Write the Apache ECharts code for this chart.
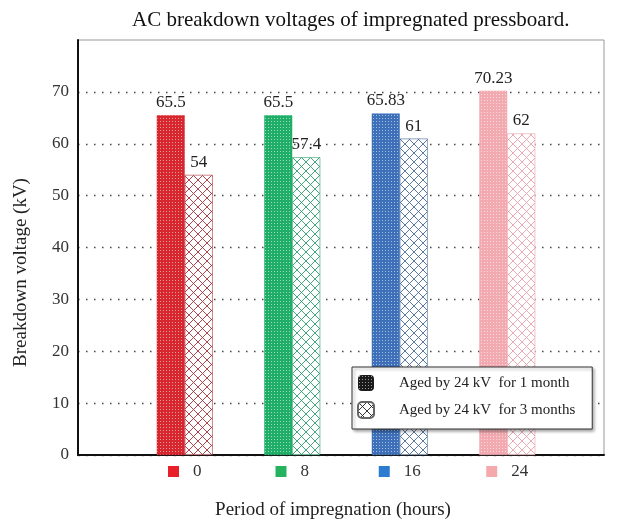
<!DOCTYPE html>
<html>
<head>
<meta charset="utf-8">
<script src="https://cdn.jsdelivr.net/npm/echarts@6/dist/echarts.min.js"></script>
<style>
html,body{margin:0;padding:0;background:#fff;}
#chart{width:617px;height:525px;}
</style>
</head>
<body>
<div id="chart"></div>
<script>
// Impregnation periods (hours) and breakdown voltages (kV)
const periods = ['0', '8', '16', '24'];
const aged1Month = [65.5, 65.5, 65.83, 70.23];
const aged3Months = [54, 57.4, 61, 62];
const yTicks = [0, 10, 20, 30, 40, 50, 60, 70];

const fillColors = ['#d8262e', '#1fae68', '#3d70b8', '#f2aab0'];
const hatchColors = ['#a8303c', '#2a9e6a', '#4a6a96', '#eaa0a8'];
const keyColors = ['#e8202a', '#25b25e', '#2b7bd0', '#f5a9ab'];

const SERIF = '"Liberation Serif", "DejaVu Serif", serif';

// Dense dotted fill: solid colour with a fine grid of light dots
function dotPattern(color) {
  const c = document.createElement('canvas');
  c.width = 3; c.height = 3;
  const g = c.getContext('2d');
  g.fillStyle = color; g.fillRect(0, 0, 3, 3);
  g.fillStyle = 'rgba(255,255,255,0.55)';
  g.fillRect(1, 1, 1, 1);
  return { image: c, repeat: 'repeat' };
}

// Open lattice fill: white with crossing diagonal lines
function hatchPattern(color) {
  const s = 9;
  const c = document.createElement('canvas');
  c.width = s; c.height = s;
  const g = c.getContext('2d');
  g.fillStyle = '#fff'; g.fillRect(0, 0, s, s);
  g.strokeStyle = color; g.lineWidth = 0.9;
  g.beginPath();
  g.moveTo(0, 0); g.lineTo(s, s);
  g.moveTo(s, 0); g.lineTo(0, s);
  g.stroke();
  return { image: c, repeat: 'repeat' };
}

const chart = echarts.init(document.getElementById('chart'), null, { renderer: 'canvas' });

const labelStyle = {
  show: true, position: 'top', distance: 4,
  fontFamily: SERIF, fontSize: 17, color: '#222'
};

const richKeys = {};
keyColors.forEach((c, i) => {
  richKeys['k' + i] = { width: 11, height: 11, backgroundColor: c };
});
richKeys.t = { fontFamily: SERIF, fontSize: 17, color: '#333', padding: [0, 0, 0, 14] };

// dotted guide lines at each tick; the one at the top edge is left out
const gridLineColors = [0, 10, 20, 30, 40, 50, 60, 70, 80].map(v =>
  yTicks.indexOf(v) >= 0 ? '#444' : 'rgba(0,0,0,0)');

chart.setOption({
  animation: false,
  title: {
    text: 'AC breakdown voltages of impregnated pressboard.',
    left: 127, top: 5,
    textStyle: { fontFamily: SERIF, fontSize: 21, fontWeight: 'normal', color: '#111' }
  },
  legend: {
    orient: 'vertical',
    left: 352, top: 367,
    backgroundColor: '#fff',
    borderColor: '#333', borderWidth: 1,
    shadowColor: 'rgba(0,0,0,0.35)', shadowBlur: 3, shadowOffsetX: 2, shadowOffsetY: 2,
    padding: [8, 17, 10, 5],
    itemGap: 10, itemWidth: 16, itemHeight: 16,
    textStyle: { fontFamily: SERIF, fontSize: 15, color: '#222', padding: [0, 0, 0, 20] },
    data: ['Aged by 24 kV  for 1 month', 'Aged by 24 kV  for 3 months']
  },
  grid: [
    { left: 78, right: 13, top: 40, bottom: 70, show: true, borderColor: '#999', borderWidth: 1 },
    { left: 131, right: 56, top: 40, bottom: 70 }
  ],
  xAxis: [
    {
      gridIndex: 0, type: 'value', min: 0, max: 1,
      axisLine: { show: true, lineStyle: { color: '#111', width: 2 } },
      axisTick: { show: false }, axisLabel: { show: false }, splitLine: { show: false },
      name: 'Period of impregnation (hours)', nameLocation: 'middle', nameGap: 46,
      nameTextStyle: { fontFamily: SERIF, fontSize: 19, color: '#222', padding: [0, 16, 0, 0] }
    },
    {
      gridIndex: 1, type: 'category', data: periods,
      axisLine: { show: false }, axisTick: { show: false },
      axisLabel: {
        margin: 8,
        formatter: (v, i) => '{k' + i + '|}{t|' + v + '}',
        rich: richKeys
      }
    }
  ],
  yAxis: [
    {
      gridIndex: 0, type: 'value', min: 0, max: 80, interval: 10,
      axisLine: { show: true, lineStyle: { color: '#111', width: 2 } },
      axisTick: { show: false },
      axisLabel: {
        margin: 9, fontFamily: SERIF, fontSize: 17, color: '#333',
        formatter: v => (yTicks.indexOf(v) >= 0 ? String(v) : '')
      },
      splitLine: { show: true, lineStyle: { color: gridLineColors, width: 1.4, type: [1.5, 6.5] } },
      name: 'Breakdown voltage (kV)', nameLocation: 'middle', nameGap: 47,
      nameTextStyle: { fontFamily: SERIF, fontSize: 19, color: '#222', padding: [0, 50, 0, 0] }
    },
    {
      gridIndex: 1, type: 'value', min: 0, max: 80, interval: 10, show: false
    }
  ],
  series: [
    {
      name: 'Aged by 24 kV  for 1 month', type: 'bar',
      xAxisIndex: 1, yAxisIndex: 1,
      barWidth: 28, barGap: '0%',
      itemStyle: { color: dotPattern('#1a1a1a') },
      label: labelStyle,
      data: aged1Month.map((v, i) => ({
        value: v,
        itemStyle: { color: dotPattern(fillColors[i]), borderColor: fillColors[i], borderWidth: 0.5 }
      }))
    },
    {
      name: 'Aged by 24 kV  for 3 months', type: 'bar',
      xAxisIndex: 1, yAxisIndex: 1,
      barWidth: 28, barGap: '0%',
      itemStyle: { color: hatchPattern('#222'), borderColor: '#666', borderWidth: 0.5 },
      label: labelStyle,
      data: aged3Months.map((v, i) => ({
        value: v,
        itemStyle: { color: hatchPattern(hatchColors[i]), borderColor: hatchColors[i], borderWidth: 0.6 }
      }))
    }
  ]
});
</script>
</body>
</html>
